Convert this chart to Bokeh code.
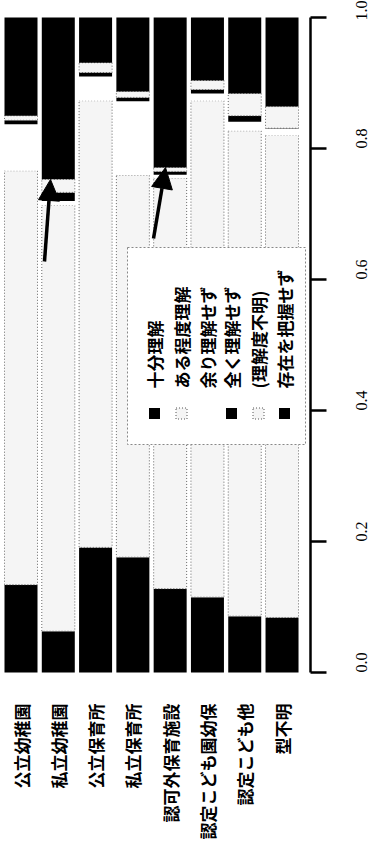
import math
from bokeh.plotting import figure
from bokeh.models import Range1d, FixedTicker, Arrow, NormalHead, ColumnDataSource
from bokeh.core.properties import value
from bokeh.embed import file_html
from bokeh.resources import INLINE

# ---------------- data ----------------
categories = ["公立幼稚園", "私立幼稚園", "公立保育所", "私立保育所",
              "認可外保育施設", "認定こども園幼保", "認定こども他", "型不明"]
series_names = ["十分理解", "ある程度理解", "余り理解せず", "全く理解せず",
                "(理解度不明)", "存在を把握せず"]
s_juubun = [0.134, 0.063, 0.191, 0.176, 0.128, 0.115, 0.086, 0.084]
s_aru = [0.632, 0.650, 0.682, 0.583, 0.627, 0.758, 0.741, 0.736]
s_amari = [0.071, 0.007, 0.037, 0.113, 0.005, 0.011, 0.014, 0.010]
s_mattaku = [0.006, 0.013, 0.006, 0.006, 0.005, 0.006, 0.009, 0.001]
s_fumei = [0.007, 0.020, 0.015, 0.009, 0.006, 0.014, 0.034, 0.033]
s_sonzai = [0.150, 0.247, 0.069, 0.113, 0.229, 0.096, 0.116, 0.136]
tick_values = [0.0, 0.2, 0.4, 0.6, 0.8, 1.0]
tick_labels = ["0.0", "0.2", "0.4", "0.6", "0.8", "1.0"]

series = [s_juubun, s_aru, s_amari, s_mattaku, s_fumei, s_sonzai]
BLACK, LIGHT, WHITE = "#000000", "#f5f5f5", "#ffffff"
fills = [BLACK, LIGHT, WHITE, BLACK, LIGHT, BLACK]

# ---------------- layout ----------------
FRAME_W, FRAME_H = 310, 845
PITCH, X0 = 37.29, 20.5           # px between bars, px of first bar centre
PX_PER_UNIT, Y0_PX = 655.0, 672.0  # value scale, page y of value 0

def fx(page_x):   # page px -> data x
    return (page_x - X0) / PITCH

def fy(page_y):   # page px -> data y
    return (Y0_PX - page_y) / PX_PER_UNIT

p = figure(frame_width=FRAME_W, frame_height=FRAME_H,
           x_range=Range1d(fx(0), fx(FRAME_W)),
           y_range=Range1d(fy(FRAME_H), fy(0)),
           output_backend="svg", toolbar_location=None,
           x_axis_location=None, y_axis_location="right",
           min_border=0, min_border_left=0, min_border_top=0,
           min_border_bottom=0)
p.outline_line_color = None
p.xgrid.visible = False
p.ygrid.visible = False
p.background_fill_color = "white"

# ---------------- stacked bars ----------------
xs = list(range(len(categories)))
bottom = [0.0] * len(categories)
for vals, col in zip(series, fills):
    top = [b + v for b, v in zip(bottom, vals)]
    src = ColumnDataSource(dict(x=xs, bottom=bottom, top=top))
    if col == LIGHT:
        p.vbar(x="x", bottom="bottom", top="top", width=0.885, source=src,
               fill_color=col, line_color="#666666", line_width=1,
               line_dash="1 2")
    else:
        p.vbar(x="x", bottom="bottom", top="top", width=0.885, source=src,
               fill_color=col, line_color=None)
    bottom = top

# category labels (rotated)
p.text(x=xs, y=[fy(703)] * len(xs), text=categories, angle=math.pi / 2,
       text_align="right", text_baseline="middle",
       text_font=value("Noto Sans CJK JP"), text_font_style="bold",
       text_font_size="17px", text_color="black")

# ---------------- axis ----------------
ax = p.yaxis[0]
ax.ticker = FixedTicker(ticks=tick_values)
ax.major_label_overrides = {v: l for v, l in zip(tick_values, tick_labels)}
ax.bounds = (0, 1)
ax.major_tick_out = 16
ax.major_tick_in = 0
ax.minor_tick_out = 0
ax.minor_tick_in = 0
ax.axis_line_width = 2.5
ax.major_tick_line_width = 2.5
ax.major_label_orientation = math.pi / 2
ax.major_label_standoff = 35
ax.major_label_text_font = "Liberation Serif"
ax.major_label_text_font_size = "16px"
ax.major_label_text_color = "black"

# ---------------- legend ----------------
p.quad(left=[fx(127)], right=[fx(305)], top=[fy(247)], bottom=[fy(444)],
       fill_color="white", line_color="#888888", line_width=1,
       line_dash="2 2")
leg_x = [fx(v) for v in [154, 181, 207, 231, 258, 284]]
for lx, col in zip(leg_x, fills):
    if col == LIGHT:
        p.rect(x=[lx], y=[fy(413)], width=11, height=11, width_units="screen",
               height_units="screen", fill_color=col, line_color="#555555",
               line_dash="1 2")
    else:
        p.rect(x=[lx], y=[fy(413)], width=11, height=11, width_units="screen",
               height_units="screen", fill_color=col, line_color=None)
p.text(x=leg_x, y=[fy(388)] * len(leg_x), text=series_names,
       angle=math.pi / 2, text_align="left", text_baseline="middle",
       text_font=value("Noto Sans CJK JP"), text_font_style="bold",
       text_font_size="17px", text_color="black")

# ---------------- arrows ----------------
arrow_tails = [(fx(44), fy(261)), (fx(153), fy(238))]
arrow_tips = [(fx(50), fy(179)), (fx(165), fy(167))]
for (x0, y0), (x1, y1) in zip(arrow_tails, arrow_tips):
    p.add_layout(Arrow(end=NormalHead(size=21, fill_color="black",
                                      line_color="black"),
                       x_start=x0, y_start=y0, x_end=x1, y_end=y1,
                       line_width=3.5, line_color="black"))

open("out.html", "w").write(file_html(p, INLINE))
